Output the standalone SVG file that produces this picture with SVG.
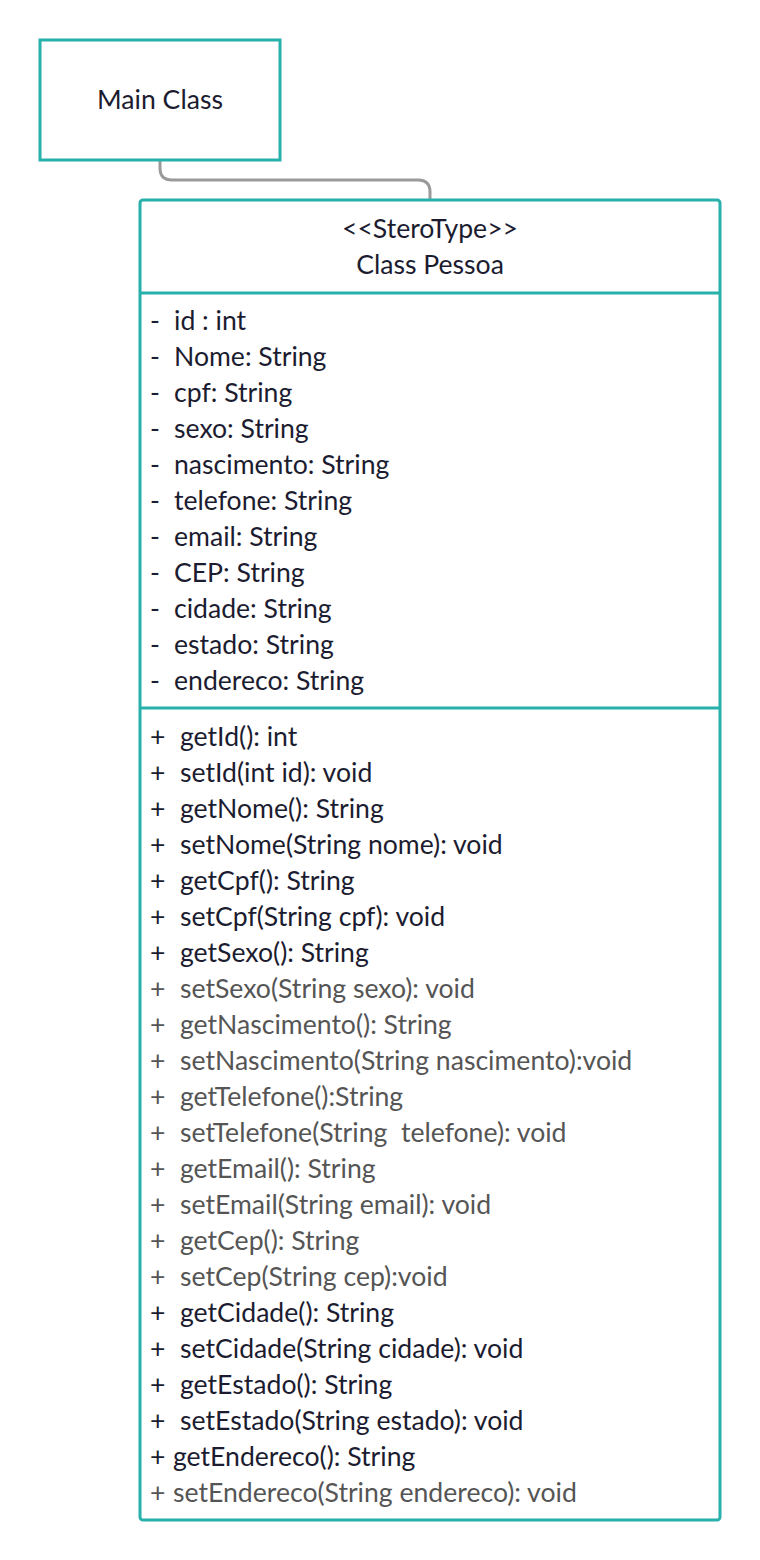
<svg xmlns="http://www.w3.org/2000/svg" width="760" height="1560" viewBox="0 0 760 1560">
<style>
.box{fill:#fff;stroke:#27b0ac;stroke-width:3}
.div{stroke:#27b0ac;stroke-width:3}
.conn{fill:none;stroke:#9a9a9a;stroke-width:3}
text{font-family:Lato,"Noto Sans",sans-serif;font-size:26.6px;fill:#1c1c30}
.g{fill:#555}
.c{text-anchor:middle}
</style>
<rect width="760" height="1560" fill="#fff"/>
<g id="connectors">
<path class="conn" d="M160,160 V168 Q160,180 172,180 H418 Q430,180 430,192 V200"/>
</g>
<g id="main-class">
<rect class="box" x="40" y="40" width="240" height="120"/>
<text class="c" x="160" y="109">Main Class</text>
</g>
<g id="class-pessoa">
<rect class="box" x="140" y="200" width="580" height="1320" rx="3"/>
<line class="div" x1="140" y1="293" x2="720" y2="293"/>
<line class="div" x1="140" y1="708" x2="720" y2="708"/>
<text class="c" x="430" y="238">&lt;&lt;SteroType&gt;&gt;</text>
<text class="c" x="430" y="274">Class Pessoa</text>
<g id="attributes">
<text x="150" y="330">-</text><text x="174" y="330">id : int</text>
<text x="150" y="366">-</text><text x="174" y="366">Nome: String</text>
<text x="150" y="402">-</text><text x="174" y="402">cpf: String</text>
<text x="150" y="438">-</text><text x="174" y="438">sexo: String</text>
<text x="150" y="474">-</text><text x="174" y="474">nascimento: String</text>
<text x="150" y="510">-</text><text x="174" y="510">telefone: String</text>
<text x="150" y="546">-</text><text x="174" y="546">email: String</text>
<text x="150" y="582">-</text><text x="174" y="582">CEP: String</text>
<text x="150" y="618">-</text><text x="174" y="618">cidade: String</text>
<text x="150" y="654">-</text><text x="174" y="654">estado: String</text>
<text x="150" y="690">-</text><text x="174" y="690">endereco: String</text>
</g>
<g id="methods">
<text x="150" y="746">+</text><text x="180" y="746">getId(): int</text>
<text x="150" y="782">+</text><text x="180" y="782">setId(int id): void</text>
<text x="150" y="818">+</text><text x="180" y="818">getNome(): String</text>
<text x="150" y="854">+</text><text x="180" y="854">setNome(String nome): void</text>
<text x="150" y="890">+</text><text x="180" y="890">getCpf(): String</text>
<text x="150" y="926">+</text><text x="180" y="926">setCpf(String cpf): void</text>
<text x="150" y="962">+</text><text x="180" y="962">getSexo(): String</text>
<text class="g" x="150" y="998">+</text><text class="g" x="180" y="998">setSexo(String sexo): void</text>
<text class="g" x="150" y="1034">+</text><text class="g" x="180" y="1034">getNascimento(): String</text>
<text class="g" x="150" y="1070">+</text><text class="g" x="180" y="1070">setNascimento(String nascimento):void</text>
<text class="g" x="150" y="1106">+</text><text class="g" x="180" y="1106">getTelefone():String</text>
<text class="g" x="150" y="1142">+</text><text class="g" x="180" y="1142" xml:space="preserve">setTelefone(String  telefone): void</text>
<text class="g" x="150" y="1178">+</text><text class="g" x="180" y="1178">getEmail(): String</text>
<text class="g" x="150" y="1214">+</text><text class="g" x="180" y="1214">setEmail(String email): void</text>
<text class="g" x="150" y="1250">+</text><text class="g" x="180" y="1250">getCep(): String</text>
<text class="g" x="150" y="1286">+</text><text class="g" x="180" y="1286">setCep(String cep):void</text>
<text x="150" y="1322">+</text><text x="180" y="1322">getCidade(): String</text>
<text x="150" y="1358">+</text><text x="180" y="1358">setCidade(String cidade): void</text>
<text x="150" y="1394">+</text><text x="180" y="1394">getEstado(): String</text>
<text x="150" y="1430">+</text><text x="180" y="1430">setEstado(String estado): void</text>
<text x="150" y="1466">+</text><text x="173" y="1466">getEndereco(): String</text>
<text class="g" x="150" y="1502">+</text><text class="g" x="173" y="1502">setEndereco(String endereco): void</text>
</g>
</g>
</svg>
